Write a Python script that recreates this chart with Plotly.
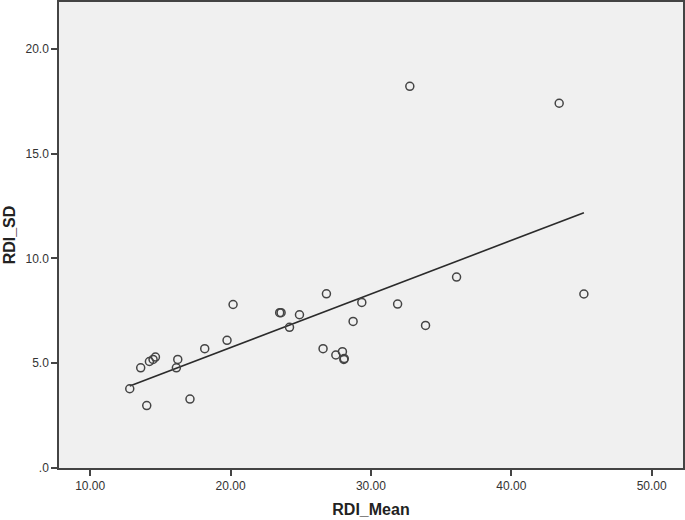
import numpy as np
import plotly.graph_objects as go

rdi_mean = [12.82, 13.60, 14.03, 14.22, 14.48, 14.65, 16.14, 16.24, 17.11, 18.16,
            19.75, 20.18, 23.50, 23.60, 24.20, 24.91, 26.83, 26.59, 27.50, 27.97,
            28.07, 28.10, 28.73, 29.35, 31.90, 33.89, 36.10, 45.17, 32.77, 43.41]
rdi_sd = [3.78, 4.78, 2.98, 5.08, 5.18, 5.29, 4.78, 5.18, 3.29, 5.69,
          6.09, 7.80, 7.41, 7.41, 6.71, 7.31, 8.31, 5.69, 5.39, 5.55,
          5.18, 5.22, 6.99, 7.90, 7.82, 6.80, 9.11, 8.30, 18.21, 17.40]

x_tickvals = [10, 20, 30, 40, 50]
x_ticktext = ["10.00", "20.00", "30.00", "40.00", "50.00"]
y_tickvals = [0, 5, 10, 15, 20]
y_ticktext = [".0", "5.0", "10.0", "15.0", "20.0"]

x = np.array(rdi_mean)
y = np.array(rdi_sd)
slope, intercept = np.polyfit(x, y, 1)
fx = np.array([x.min(), x.max()])
fy = slope * fx + intercept

fig = go.Figure()
fig.add_trace(go.Scatter(x=fx, y=fy, mode="lines",
                         line=dict(color="#2b2b2b", width=1.6), hoverinfo="skip"))
fig.add_trace(go.Scatter(x=rdi_mean, y=rdi_sd, mode="markers",
                         marker=dict(symbol="circle-open", size=8,
                                     color="#444444", line=dict(width=1.5, color="#444444"))))

axis_common = dict(showgrid=False, zeroline=False, showline=True, linecolor="#444444",
                   linewidth=1.5, mirror=True, ticks="outside", tickcolor="#444444",
                   tickwidth=1.5, ticklen=6, automargin=False,
                   tickfont=dict(family="Liberation Sans, Arial", size=12, color="#333333"))

fig.update_xaxes(range=[7.78, 52.23], tickvals=x_tickvals, ticktext=x_ticktext,
                 title=dict(text="<b>RDI_Mean</b>", standoff=12,
                            font=dict(family="Liberation Sans, Arial", size=16, color="#222222")),
                 **axis_common)
fig.update_yaxes(range=[0, 22.23], tickvals=y_tickvals, ticktext=y_ticktext,
                 title=dict(text="<b>RDI_SD</b>", standoff=6,
                            font=dict(family="Liberation Sans, Arial", size=16, color="#222222")),
                 **axis_common)

fig.update_layout(width=685, height=520, showlegend=False,
                  margin=dict(l=59, r=2, t=2, b=52, autoexpand=False),
                  plot_bgcolor="#f0f0f0", paper_bgcolor="white")

fig.write_html("out.html", config={"displayModeBar": False},
               post_script="document.body.style.margin='0';document.body.style.overflow='hidden';")
